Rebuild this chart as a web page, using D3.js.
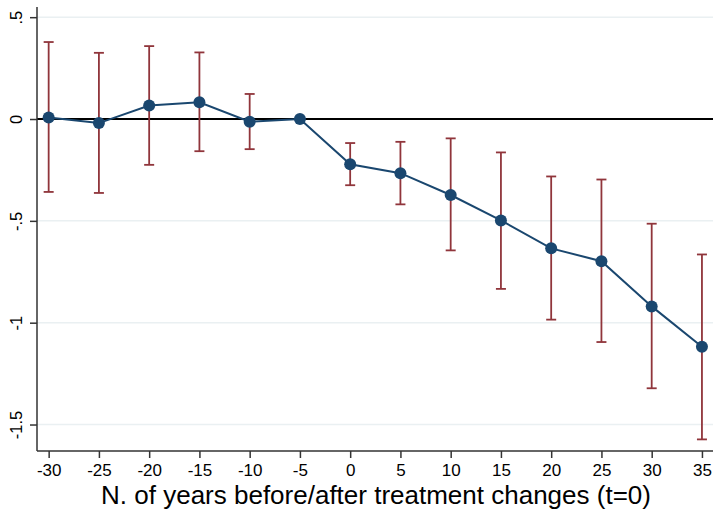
<!DOCTYPE html>
<html>
<head>
<meta charset="utf-8">
<script src="https://cdn.jsdelivr.net/npm/d3@7"></script>
<style>
  body { margin: 0; background: #fff; }
  text { font-family: "Liberation Sans", Arial, sans-serif; fill: #000; }
</style>
</head>
<body>
<svg width="715" height="510"></svg>
<script>
// event-time coefficients
const years = [-30, -25, -20, -15, -10, -5, 0, 5, 10, 15, 20, 25, 30, 35];
const coef  = [0.008, -0.02, 0.066, 0.082, -0.013, 0, -0.222, -0.266, -0.373, -0.498, -0.635, -0.698, -0.92, -1.118];
const ciHi  = [0.378, 0.325, 0.358, 0.327, 0.123, 0, -0.118, -0.112, -0.095, -0.164, -0.282, -0.297, -0.514, -0.665];
const ciLo  = [-0.358, -0.363, -0.225, -0.158, -0.148, 0, -0.325, -0.419, -0.645, -0.834, -0.985, -1.095, -1.322, -1.573];
const yTicks = [0.5, 0, -0.5, -1, -1.5];
const yTickLabels = [".5", "0", "-.5", "-1", "-1.5"];
const xLabel = "N. of years before/after treatment changes (t=0)";

const NAVY = "#1a476f", MAROON = "#90353b";
const rows = years.map((t, i) => ({ t, b: coef[i], hi: ciHi[i], lo: ciLo[i] }));

const svg = d3.select("svg");
const m = { left: 37, right: 2, top: 7, bottom: 59 };
const W = 715, H = 510;

const x = d3.scaleLinear().domain([-31.16, 36.1]).range([m.left, W - m.right]);
const y = d3.scaleLinear().domain([-1.63, 0.55]).range([H - m.bottom, m.top]);

// gridlines
svg.append("g").selectAll("line")
  .data(yTicks.filter(v => v !== 0))
  .enter().append("line")
  .attr("x1", m.left).attr("x2", W - m.right)
  .attr("y1", d => y(d)).attr("y2", d => y(d))
  .attr("stroke", "#eaf0f2").attr("stroke-width", 1.5);

// zero reference line
svg.append("line")
  .attr("x1", m.left).attr("x2", W - m.right)
  .attr("y1", y(0)).attr("y2", y(0))
  .attr("stroke", "#000").attr("stroke-width", 2);

// y axis
const yAxis = svg.append("g")
  .attr("transform", `translate(${m.left},0)`)
  .call(d3.axisLeft(y).tickValues(yTicks).tickSize(7).tickFormat((d, i) => yTickLabels[i]));
yAxis.select(".domain").attr("stroke", "#333").attr("stroke-width", 1.5)
  .attr("d", `M0,${m.top}V${H - m.bottom}`);
yAxis.selectAll(".tick line").attr("stroke", "#333").attr("stroke-width", 1.5);
yAxis.selectAll(".tick text")
  .attr("x", null).attr("dy", null)
  .attr("text-anchor", "middle")
  .attr("transform", "translate(-15,0) rotate(-90)")
  .style("font-size", "16.5px");

// x axis
const xAxis = svg.append("g")
  .attr("transform", `translate(0,${H - m.bottom})`)
  .call(d3.axisBottom(x).tickValues(years).tickSize(7).tickFormat(d => String(d)));
xAxis.select(".domain").attr("stroke", "#333").attr("stroke-width", 1.5)
  .attr("d", `M${m.left},0H${W - m.right}`);
xAxis.selectAll(".tick line").attr("stroke", "#333").attr("stroke-width", 1.5);
xAxis.selectAll(".tick text").attr("y", 13.4).style("font-size", "17px");

svg.append("text")
  .attr("x", 376).attr("y", 504)
  .attr("text-anchor", "middle")
  .style("font-size", "26px")
  .text(xLabel);

// confidence intervals
const ci = svg.append("g").attr("stroke", MAROON).attr("stroke-width", 1.8);
const withCi = rows.filter(d => d.hi !== d.lo);
ci.selectAll(".bar").data(withCi).enter().append("line")
  .attr("x1", d => x(d.t)).attr("x2", d => x(d.t))
  .attr("y1", d => y(d.hi)).attr("y2", d => y(d.lo));
ci.selectAll(".capHi").data(withCi).enter().append("line")
  .attr("x1", d => x(d.t) - 5).attr("x2", d => x(d.t) + 5)
  .attr("y1", d => y(d.hi)).attr("y2", d => y(d.hi));
ci.selectAll(".capLo").data(withCi).enter().append("line")
  .attr("x1", d => x(d.t) - 5).attr("x2", d => x(d.t) + 5)
  .attr("y1", d => y(d.lo)).attr("y2", d => y(d.lo));

// coefficient line and markers
svg.append("path")
  .datum(rows)
  .attr("fill", "none").attr("stroke", NAVY).attr("stroke-width", 2)
  .attr("d", d3.line().x(d => x(d.t)).y(d => y(d.b)));

svg.append("g").selectAll("circle")
  .data(rows).enter().append("circle")
  .attr("cx", d => x(d.t)).attr("cy", d => y(d.b))
  .attr("r", 6).attr("fill", NAVY);
</script>
</body>
</html>
